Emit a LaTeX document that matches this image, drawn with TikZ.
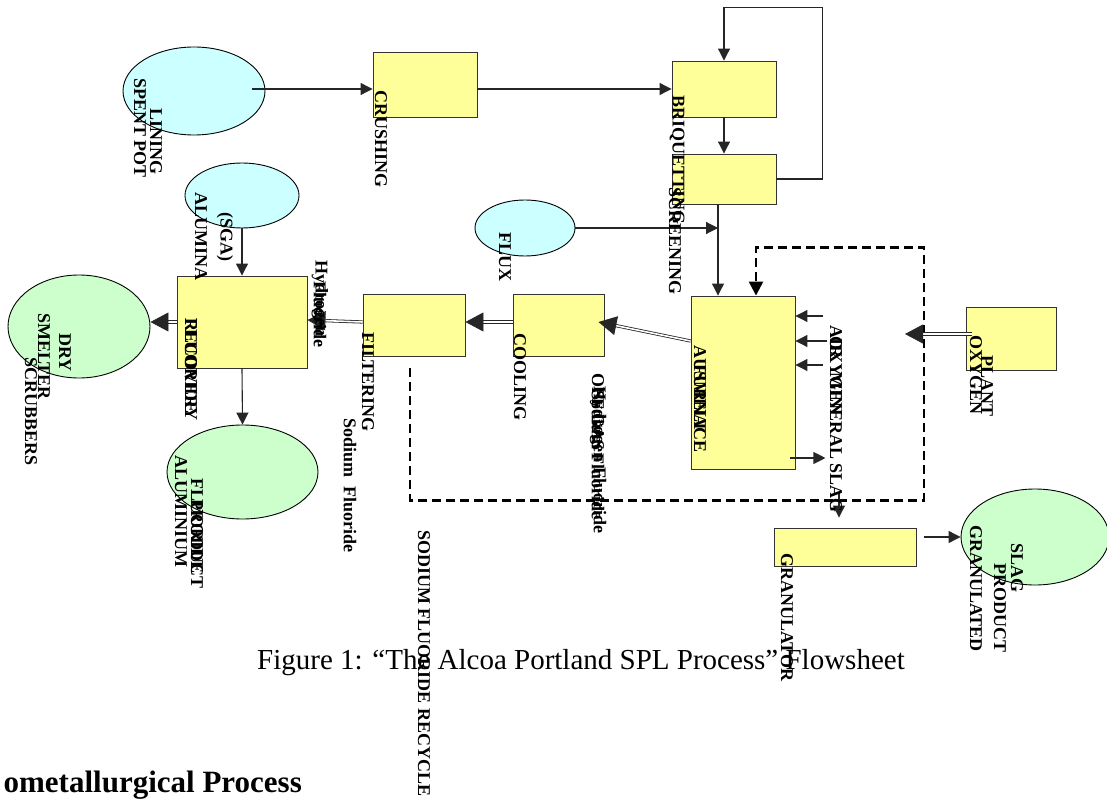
\documentclass[tikz,border=0pt]{standalone}
\usepackage{fontspec}
\setmainfont{Liberation Serif}
\usetikzlibrary{shapes.geometric,arrows.meta,calc}
\definecolor{feedblue}{HTML}{CCFFFF}
\definecolor{procyellow}{HTML}{FFFF99}
\definecolor{prodgreen}{HTML}{CCFFCC}

\begin{document}
\begin{tikzpicture}[
    x=1pt, y=-1pt,
    procbox/.style={draw=black!80, fill=procyellow, line width=0.9pt, inner sep=0pt},
    feed/.style={ellipse, draw, fill=feedblue, line width=0.9pt, inner sep=0pt},
    product/.style={ellipse, draw, fill=prodgreen, line width=0.9pt, inner sep=0pt},
    flow/.style={draw=black!85, line width=1.1pt, -{Triangle[length=12pt,width=12pt]}},
    dflow/.style={draw=black!85, double=white, double distance=1.6pt, line width=0.8pt, -{Triangle[length=18pt,width=19pt]}},
    recyc/.style={draw, line width=2.5pt, dash pattern=on 9pt off 5pt, -{Triangle[length=14pt,width=14pt]}},
    lbl/.style={rotate=-90, anchor=west, inner sep=0pt, font=\fontsize{18}{18}\selectfont\bfseries}
]

\useasboundingbox (0,0) rectangle (1107,799);

% Feeds (blue)
\node[feed, minimum width=142pt, minimum height=88pt] (spl) at (194,91) {};
\node[feed, minimum width=100pt, minimum height=56pt] (flux) at (525,228) {};
\node[feed, minimum width=114pt, minimum height=65pt] (alumina) at (242,195.5) {};

% Process units (yellow)
\node[procbox, minimum width=104pt, minimum height=65pt] (crush) at (425,84.5) {};
\node[procbox, minimum width=104pt, minimum height=56pt] (briq) at (724,89) {};
\node[procbox, minimum width=104pt, minimum height=50pt] (screen) at (724,179) {};
\node[procbox, minimum width=104pt, minimum height=173pt] (furnace) at (743,382.5) {};
\node[procbox, minimum width=91pt, minimum height=62pt] (cool) at (558.5,325) {};
\node[procbox, minimum width=102pt, minimum height=62pt] (filter) at (414,325) {};
\node[procbox, minimum width=130pt, minimum height=92pt] (recov) at (242,322) {};
\node[procbox, minimum width=90pt, minimum height=63pt] (oxy) at (1011,338.5) {};
\node[procbox, minimum width=142pt, minimum height=38pt] (gran) at (845,547) {};

% Products (green)
\node[product, minimum width=142pt, minimum height=103pt] (scrub) at (79,326.5) {};
\node[product, minimum width=151pt, minimum height=94pt] (alf) at (242.5,472) {};
\node[product, minimum width=148pt, minimum height=96pt] (slag) at (1035,537) {};

% Solids line: SPL -> crushing -> briquetting -> screening
\coordinate (splout) at ($(spl.center)+(58,-2)$);
\draw[flow] (splout) -- (splout -| crush.west);
\draw[flow] (crush.east |- briq.west) -- (briq.west);
\draw[flow] (briq.south) -- (screen.north);
\draw[flow] (screen.east) -- ++(46,0) |- ($(briq.north)+(0,-53)$) -- (briq.north);

% Furnace feed with flux
\coordinate (feedx) at ($(screen.south)+(-6,0)$);
\draw[flow] (feedx) -- (feedx |- furnace.north);
\draw[flow] (flux.east) -- (flux.east -| feedx);

% Off gas train
\draw[dflow] ($(furnace.west)+(0,-41.5)$) -- ($(cool.east)+(-6,-3)$);
\draw[dflow] ($(cool.west)+(0,-3)$) -- ($(filter.east)+(0,-3)$);
\draw[dflow] ($(filter.west)+(0,-3)$) -- ($(recov.east)+(0,-2)$);
\draw[dflow] (recov.west) -- (recov.west -| scrub.east);
\draw[flow] (alumina.south) -- (recov.north);
\draw[flow] (recov.south) -- (alf.north);

% Sodium fluoride recycle (dashed)
\draw[recyc] ($(filter.south)+(-4,12)$) -- ++(0,132) -| ++(514,-253) -| ($(furnace.north)+(13,0)$);

% Oxygen supply
\coordinate (oxin) at (905,334);
\draw[dflow] ($(oxy.west)+(6,-4.5)$) -- (oxin);

% Furnace inputs and slag
\foreach \dy/\len in {-66.5/28, -41.5/32, -17.5/28}
  \draw[flow] ($(furnace.east)+(\len,\dy)$) -- ($(furnace.east)+(0,\dy)$);
\draw[flow] ($(furnace.east)+(-5,75.5)$) -- ++(35,0);
\draw[flow] ($(gran.north)+(-6,-35)$) -- ($(gran.north)+(-6,-10)$);
\coordinate (granout) at ($(gran.east)+(8,0)$);
\draw[flow] (granout |- slag.west) -- (slag.west);

% Labels (rotated)
\node[lbl] (tlining) at (156,108) {LINING};
\node[lbl] (tspent) at (140,78) {SPENT POT};
\node[lbl] (tcrush) at (381,90) {CRUSHING};
\node[lbl] (tbriq) at (677,95) {BRIQUETTING};
\node[lbl] (tscreen) at (675,187) {SCREENING};
\node[lbl] (tflux) at (505,232) {FLUX};
\node[lbl] (tsga) at (225,212) {(SGA)};
\node[lbl] (talumina) at (201,192) {ALUMINA};
\node[lbl] (thyd) at (320,260) {Hydrogen};
\node[lbl] (tfluo) at (320,281) {Fluoride};
\node[lbl] (trec1) at (191,318) {FLUORIDE};
\node[lbl] (trec2) at (191,318) {RECOVERY};
\node[lbl] (tdry) at (65,333) {DRY};
\node[lbl] (tsmelter) at (44,313) {SMELTER};
\node[lbl] (tscrub) at (31,357) {SCRUBBERS};
\node[lbl] (talum) at (181,455) {ALUMINIUM};
\node[lbl] (talf1) at (197,478) {FLUORIDE};
\node[lbl] (talf2) at (197,499) {PRODUCT};
\node[lbl] (tfilter) at (368,332) {FILTERING};
\node[lbl] (tnaf) at (350,418) {Sodium~~Fluoride};
\node[lbl] (tcool) at (520,333) {COOLING};
\node[lbl] (toff) at (598,373) {OFF GAS};
\node[lbl] (toffhf) at (598,386) {Hydrogen Fluoride};
\node[lbl] (toffnaf) at (598,390) {Sodium Fluoride};
\node[lbl] (tausmelt) at (700,345) {AUSMELT};
\node[lbl] (tfurnace) at (700,364) {FURNACE};
\node[lbl] (tair) at (836,325) {AIR};
\node[lbl] (toxin) at (836,336) {OXYGEN};
\node[lbl] (tminslag) at (836,372) {MINERAL SLAG};
\node[lbl] (toxy) at (976,335) {OXYGEN};
\node[lbl] (tplant) at (987,355) {PLANT};
\node[lbl] (tgran) at (787,553) {GRANULATOR};
\node[lbl] (tslag) at (1017,543) {SLAG};
\node[lbl] (tprod) at (1000,563) {PRODUCT};
\node[lbl] (tgranul) at (976,525) {GRANULATED};
\node[lbl] (trecycle) at (424,530) {SODIUM FLUORIDE RECYCLE};

% Caption and section heading
\node[font=\fontsize{29}{32}\selectfont, anchor=base, inner sep=0pt] (caption) at (581,669)
    {Figure 1: “The Alcoa Portland SPL Process” Flowsheet};
\node[font=\fontsize{31}{34}\selectfont\bfseries, anchor=base east, inner sep=0pt] (heading) at (302,792)
    {ometallurgical Process};

\end{tikzpicture}
\end{document}
